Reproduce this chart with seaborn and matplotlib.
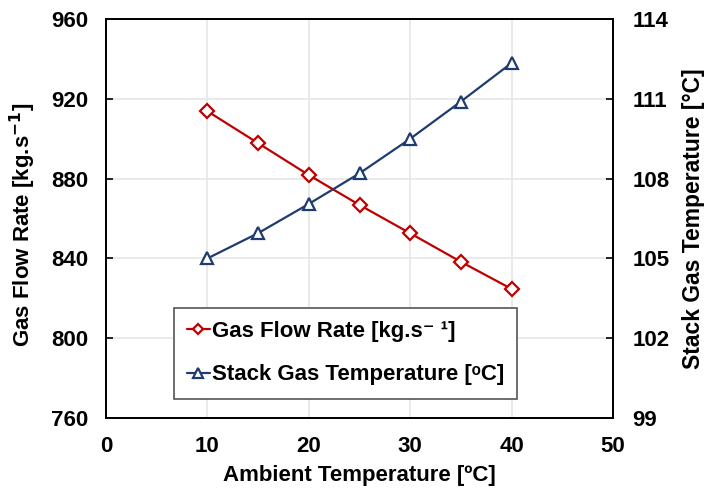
import matplotlib
matplotlib.use("Agg")
import matplotlib.pyplot as plt
import seaborn as sns
import pandas as pd

ambient = [10, 15, 20, 25, 30, 35, 40]
gas_flow = [913.8, 897.8, 881.8, 866.8, 852.6, 838.3, 824.7]
stack_temp = [105.0, 105.95, 107.05, 108.2, 109.5, 110.9, 112.35]
left_ticks = [760, 800, 840, 880, 920, 960]
right_ticks = [99, 102, 105, 108, 111, 114]
x_ticks = [0, 10, 20, 30, 40, 50]

df = pd.DataFrame({"ambient": ambient, "gas": gas_flow, "stack": stack_temp})

sns.set_theme(style="white")
plt.rcParams["font.family"] = ["Liberation Sans", "DejaVu Sans"]
plt.rcParams["font.weight"] = "bold"
plt.rcParams["text.color"] = "black"
plt.rcParams["axes.labelcolor"] = "black"

fig = plt.figure(figsize=(7.07, 4.90), dpi=100)
ax = fig.add_axes([0.150, 0.147, 0.717, 0.814])
ax2 = ax.twinx()

red = "#C00000"
blue = "#1F3C6E"

sns.lineplot(data=df, x="ambient", y="gas", ax=ax, color=red, marker="D",
             markersize=7, markerfacecolor="white", markeredgecolor=red,
             markeredgewidth=1.6, linewidth=1.6, label="Gas Flow Rate [kg.s\u207b \u00b9]",
             legend=False)
sns.lineplot(data=df, x="ambient", y="stack", ax=ax2, color=blue, marker="^",
             markersize=9, markerfacecolor="white", markeredgecolor=blue,
             markeredgewidth=1.6, linewidth=1.6, label="Stack Gas Temperature [\u1d52C]",
             legend=False)

ax.set_xlim(0, 50)
ax.set_ylim(760, 960)
ax2.set_ylim(99, 114)
ax.set_xticks(x_ticks)
ax.set_yticks(left_ticks)
ax2.set_yticks(right_ticks)

ax.grid(True, color="#E6E6E6", linewidth=1.2)
ax.set_axisbelow(True)

for a in (ax, ax2):
    for s in a.spines.values():
        s.set_color("black")
        s.set_linewidth(1.3)
    a.tick_params(direction="in", length=5, width=1.2, colors="black",
                  labelsize=16)
    for lbl in a.get_xticklabels() + a.get_yticklabels():
        lbl.set_fontweight("bold")
ax.tick_params(axis="y", pad=13)
ax.tick_params(axis="x", pad=13)
ax2.tick_params(axis="y", pad=14)

ax.set_xlabel("Ambient Temperature [ºC]", fontsize=16, fontweight="bold")
ax.set_ylabel("Gas Flow Rate [kg.s$^{\\mathbf{-1}}$]", fontsize=16, fontweight="bold")
ax2.set_ylabel("Stack Gas Temperature [°C]", fontsize=16.5, fontweight="bold")
ax.xaxis.set_label_coords(0.5, -0.118)
ax.yaxis.set_label_coords(-0.134, 0.485)
ax2.yaxis.set_label_coords(1.136, 0.5)

h1, l1 = ax.get_legend_handles_labels()
h2, l2 = ax2.get_legend_handles_labels()
leg = ax2.legend(h1 + h2, l1 + l2, loc="lower left", bbox_to_anchor=(0.134, 0.048),
                 fancybox=False, framealpha=1, edgecolor="#555555",
                 prop={"weight": "bold", "size": 16}, handlelength=1.0,
                 markerscale=0.75, handletextpad=0.1, labelspacing=1.0,
                 borderpad=0.6, borderaxespad=0)
leg.get_frame().set_linewidth(1.2)

fig.savefig("out.png", dpi=100)
